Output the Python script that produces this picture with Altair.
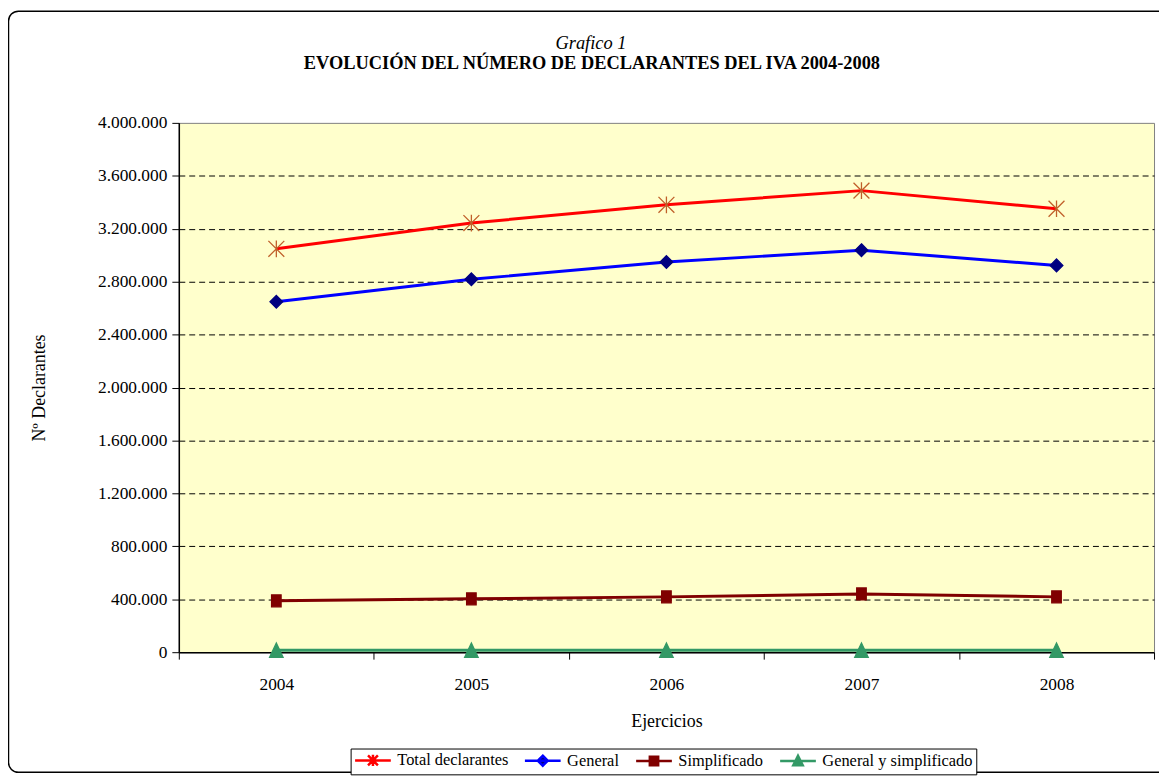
import altair as alt
import pandas as pd

# ---- data ----
years = ["2004", "2005", "2006", "2007", "2008"]
series_names = ["Total declarantes", "General", "Simplificado", "General y simplificado"]
total = [3048000, 3243000, 3381000, 3488000, 3351000]
general = [2648000, 2818000, 2948000, 3038000, 2923000]
simplificado = [388000, 403000, 418000, 440000, 418000]
general_y_simplificado = [15000, 15000, 15000, 15000, 15000]
y_ticks = [0, 400000, 800000, 1200000, 1600000, 2000000, 2400000, 2800000, 3200000, 3600000, 4000000]

title_line1 = "Grafico 1"
title_line2 = "EVOLUCIÓN DEL NÚMERO DE DECLARANTES DEL IVA 2004-2008"
x_title = "Ejercicios"
y_title = "Nº Declarantes"

# ---- styles ----
line_colors = ["#FF0000", "#0000FF", "#800000", "#339966"]
marker_colors = ["#C0602A", "#000080", "#800000", "#339966"]
marker_paths = [
    "M-1,-1L1,1M-1,1L1,-1M0,-1.05V1.05",
    "M0,-0.8L0.8,0L0,0.8L-0.8,0Z",
    "M-0.6,-0.75H0.6V0.75H-0.6Z",
    "M0,-0.9L0.85,0.9H-0.85Z",
]
# legend symbols: a line stub with the marker in its middle (unit = 7px)
legend_paths = [
    "M-1,0H4.14M0.86,-0.71L2.28,0.71M0.86,0.71L2.28,-0.71M1.57,-0.8V0.8",
    "M-1,0H4.14M1.57,-0.72L2.29,0L1.57,0.72L0.85,0Z",
    "M-1,0H4.14M0.97,-0.62H2.17V0.62H0.97Z",
    "M-1,0H4.14M1.57,-0.75L2.25,0.62H0.89Z",
]

rows = []
for name, vals in zip(series_names, [total, general, simplificado, general_y_simplificado]):
    for yr, v in zip(years, vals):
        rows.append({"year": yr, "series": name, "value": v})
df = pd.DataFrame(rows)

x_enc = alt.X(
    "year:O",
    scale=alt.Scale(type="band", paddingInner=0, paddingOuter=0),
    axis=alt.Axis(
        title=x_title, tickBand="extent", labelAngle=0, tickSize=7,
        labelPadding=17, titleY=70, titleBaseline="middle", domainWidth=1.5,
    ),
)
y_enc = alt.Y(
    "value:Q",
    scale=alt.Scale(domain=[0, 4000000], nice=False),
    axis=alt.Axis(
        title=y_title, values=y_ticks, format=",d", tickSize=7, labelPadding=5,
        grid=True, gridWidth=1,
        gridColor={"condition": {"test": "datum.value >= 4000000 || datum.value <= 0", "value": "transparent"}, "value": "black"},
        gridDash=[6, 4],
        titleX=-140, titleY=266.5, titleAngle=-90, titleAlign="center", titleBaseline="middle",
        domainWidth=1.5,
    ),
)

base = alt.Chart(df)

frame = alt.Chart(pd.DataFrame({"k": [0]})).mark_rect(
    fillOpacity=0, stroke="black", strokeWidth=1.5, cornerRadius=10
).encode(
    x=alt.value(-171.5), x2=alt.value(1100), y=alt.value(-112.5), y2=alt.value(654)
)

titles = alt.Chart(pd.DataFrame({"t": [title_line1]})).mark_text(
    font="Liberation Serif", fontSize=18.5, fontStyle="italic", color="black", baseline="middle"
).encode(x=alt.value(415), y=alt.value(-80), text="t:N")
titles2 = alt.Chart(pd.DataFrame({"t": [title_line2]})).mark_text(
    font="Liberation Serif", fontSize=18.5, fontWeight="bold", color="black", baseline="middle"
).encode(x=alt.value(416), y=alt.value(-60), text="t:N")

lines = base.mark_line(strokeWidth=3).encode(
    x=x_enc, y=y_enc,
    stroke=alt.Stroke("series:N", scale=alt.Scale(domain=series_names, range=line_colors), legend=None),
)

points = base.mark_point(filled=True, opacity=1, size=256, strokeWidth=1.3).encode(
    x=x_enc, y=y_enc,
    shape=alt.Shape("series:N", scale=alt.Scale(domain=series_names, range=marker_paths), legend=None),
    fill=alt.Fill("series:N", scale=alt.Scale(domain=series_names, range=marker_colors), legend=None),
    stroke=alt.Stroke("series:N", scale=alt.Scale(domain=series_names, range=marker_colors), legend=None),
)

legend_layer = base.transform_filter("false").mark_point(
    filled=True, opacity=1, size=196, strokeWidth=2.5
).encode(
    x=x_enc, y=y_enc,
    shape=alt.Shape("series:N", scale=alt.Scale(domain=series_names, range=legend_paths), legend=alt.Legend(title=None)),
    fill=alt.Fill("series:N", scale=alt.Scale(domain=series_names, range=marker_colors), legend=alt.Legend(title=None)),
    stroke=alt.Stroke("series:N", scale=alt.Scale(domain=series_names, range=line_colors), legend=alt.Legend(title=None)),
)

chart = alt.layer(frame, lines, points, legend_layer, titles, titles2).resolve_scale(
    stroke="independent", fill="independent", shape="independent"
).properties(
    width=982, height=533,
    autosize=alt.AutoSizeParams(type="none"),
    padding={"left": 172, "top": 113, "right": 5, "bottom": 122},
).configure(
    font="Liberation Serif",
    locale={"number": {"decimal": ",", "thousands": ".", "grouping": [3], "currency": ["", " €"]}},
).configure_view(
    fill="#FFFFCC", stroke="#808080", strokeWidth=1
).configure_axis(
    labelFont="Liberation Serif", labelFontSize=17.5, labelColor="black",
    titleFont="Liberation Serif", titleFontSize=18, titleFontWeight="normal", titleColor="black",
    domainColor="black", tickColor="black",
).configure_legend(
    orient="none", legendX=173, legendY=630, direction="horizontal",
    strokeColor="black", fillColor="white", padding=3,
    labelFont="Liberation Serif", labelFontSize=16.5, labelColor="black", labelLimit=300,
    symbolSize=196, symbolStrokeWidth=2.5, labelOffset=27, columnPadding=11,
)

chart.save("out.html", embed_options={"renderer": "svg", "actions": False})
